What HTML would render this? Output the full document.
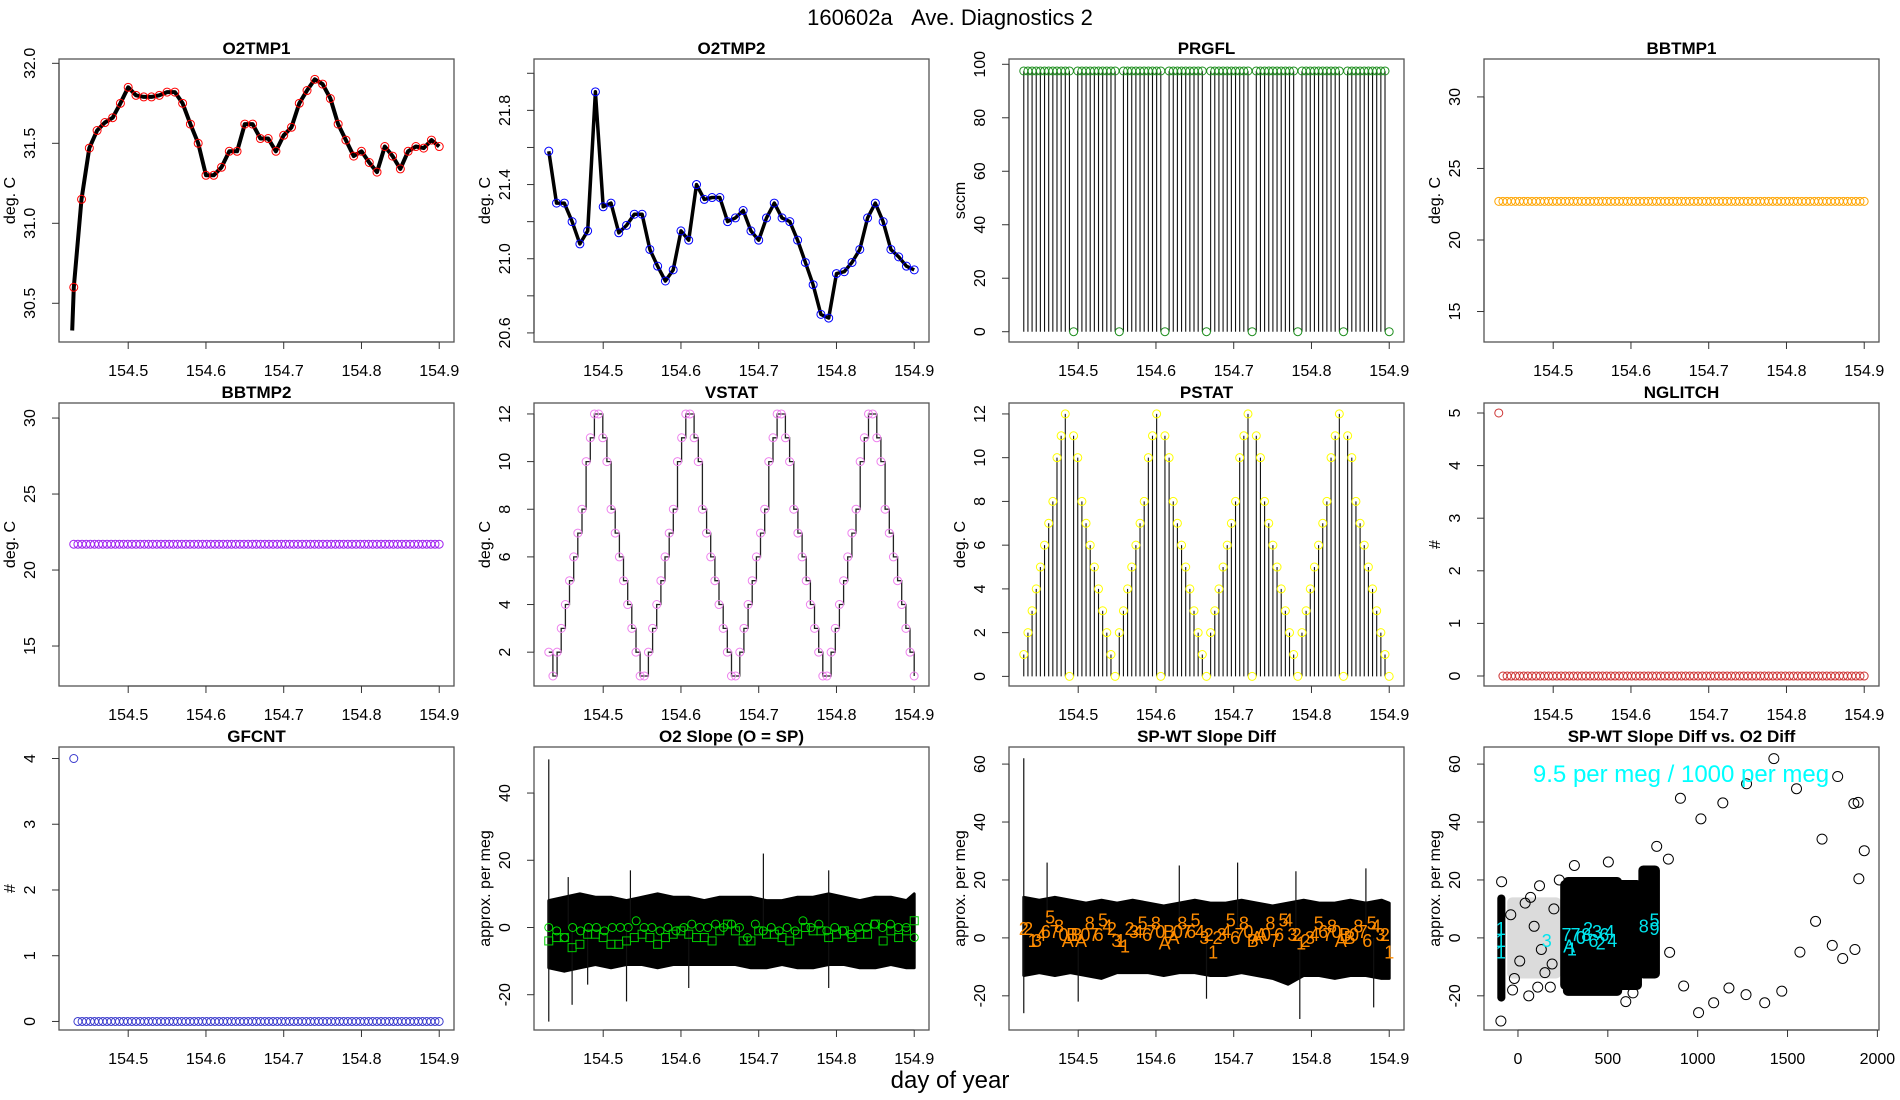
<!DOCTYPE html>
<html><head><meta charset="utf-8"><title>160602a Ave. Diagnostics 2</title>
<style>
html,body{margin:0;padding:0;background:#fff;}
svg{display:block;font-family:"Liberation Sans",Arial,sans-serif;}
</style></head>
<body>
<svg id="chart" width="1900" height="1100" viewBox="0 0 1900 1100" xmlns="http://www.w3.org/2000/svg">
<rect x="0" y="0" width="1900" height="1100" fill="#fff"/>
<text x="950" y="25" font-size="22" text-anchor="middle">160602a&#160;&#160;&#160;Ave. Diagnostics 2</text>
<text x="950" y="1088" font-size="24" text-anchor="middle">day of year</text>
</svg>
<script>
// ---------------- data ----------------
const xTicks = [154.5, 154.6, 154.7, 154.8, 154.9];
const xTickLabels = ["154.5", "154.6", "154.7", "154.8", "154.9"];
const dayStart = 154.43;
const coarseStep = 0.01;
const fineStep = 0.00534;
const envStep = 0.02;

const o2tmp1 = [30.6,31.15,31.47,31.58,31.63,31.66,31.75,31.85,31.8,31.79,31.79,31.8,31.82,31.82,31.75,31.62,31.5,31.3,31.3,31.35,31.45,31.45,31.62,31.62,31.53,31.53,31.45,31.55,31.6,31.75,31.83,31.9,31.87,31.78,31.62,31.52,31.42,31.45,31.38,31.32,31.48,31.42,31.34,31.45,31.48,31.47,31.52,31.48];
const o2tmp2 = [21.58,21.3,21.3,21.2,21.08,21.15,21.9,21.28,21.3,21.14,21.18,21.24,21.24,21.05,20.96,20.88,20.94,21.15,21.1,21.4,21.32,21.33,21.33,21.2,21.22,21.26,21.15,21.1,21.22,21.3,21.22,21.2,21.1,20.98,20.86,20.7,20.68,20.92,20.93,20.98,21.05,21.22,21.3,21.2,21.05,21.01,20.96,20.94];
const prgfl = [97.5,97.5,97.5,97.5,97.5,97.5,97.5,97.5,97.5,97.5,97.5,97.5,0,97.5,97.5,97.5,97.5,97.5,97.5,97.5,97.5,97.5,97.5,0,97.5,97.5,97.5,97.5,97.5,97.5,97.5,97.5,97.5,97.5,0,97.5,97.5,97.5,97.5,97.5,97.5,97.5,97.5,97.5,0,97.5,97.5,97.5,97.5,97.5,97.5,97.5,97.5,97.5,97.5,0,97.5,97.5,97.5,97.5,97.5,97.5,97.5,97.5,97.5,97.5,0,97.5,97.5,97.5,97.5,97.5,97.5,97.5,97.5,97.5,97.5,0,97.5,97.5,97.5,97.5,97.5,97.5,97.5,97.5,97.5,97.5,0];
const bbtmp1 = [22.7,22.7,22.7,22.7,22.7,22.7,22.7,22.7,22.7,22.7,22.7,22.7,22.7,22.7,22.7,22.7,22.7,22.7,22.7,22.7,22.7,22.7,22.7,22.7,22.7,22.7,22.7,22.7,22.7,22.7,22.7,22.7,22.7,22.7,22.7,22.7,22.7,22.7,22.7,22.7,22.7,22.7,22.7,22.7,22.7,22.7,22.7,22.7,22.7,22.7,22.7,22.7,22.7,22.7,22.7,22.7,22.7,22.7,22.7,22.7,22.7,22.7,22.7,22.7,22.7,22.7,22.7,22.7,22.7,22.7,22.7,22.7,22.7,22.7,22.7,22.7,22.7,22.7,22.7,22.7,22.7,22.7,22.7,22.7,22.7,22.7,22.7,22.7,22.7];
const bbtmp2 = [21.7,21.7,21.7,21.7,21.7,21.7,21.7,21.7,21.7,21.7,21.7,21.7,21.7,21.7,21.7,21.7,21.7,21.7,21.7,21.7,21.7,21.7,21.7,21.7,21.7,21.7,21.7,21.7,21.7,21.7,21.7,21.7,21.7,21.7,21.7,21.7,21.7,21.7,21.7,21.7,21.7,21.7,21.7,21.7,21.7,21.7,21.7,21.7,21.7,21.7,21.7,21.7,21.7,21.7,21.7,21.7,21.7,21.7,21.7,21.7,21.7,21.7,21.7,21.7,21.7,21.7,21.7,21.7,21.7,21.7,21.7,21.7,21.7,21.7,21.7,21.7,21.7,21.7,21.7,21.7,21.7,21.7,21.7,21.7,21.7,21.7,21.7,21.7,21.7];
const vstat = [2,1,2,3,4,5,6,7,8,10,11,12,12,11,10,8,7,6,5,4,3,2,1,1,2,3,4,5,6,7,8,10,11,12,12,11,10,8,7,6,5,4,3,2,1,1,2,3,4,5,6,7,8,10,11,12,12,11,10,8,7,6,5,4,3,2,1,1,2,3,4,5,6,7,8,10,11,12,12,11,10,8,7,6,5,4,3,2,1];
const pstat = [1,2,3,4,5,6,7,8,10,11,12,0,11,10,8,7,6,5,4,3,2,1,0,2,3,4,5,6,7,8,10,11,12,0,11,10,8,7,6,5,4,3,2,1,0,2,3,4,5,6,7,8,10,11,12,0,11,10,8,7,6,5,4,3,2,1,0,2,3,4,5,6,7,8,10,11,12,0,11,10,8,7,6,5,4,3,2,1,0];
const nglitch = [5,0,0,0,0,0,0,0,0,0,0,0,0,0,0,0,0,0,0,0,0,0,0,0,0,0,0,0,0,0,0,0,0,0,0,0,0,0,0,0,0,0,0,0,0,0,0,0,0,0,0,0,0,0,0,0,0,0,0,0,0,0,0,0,0,0,0,0,0,0,0,0,0,0,0,0,0,0,0,0,0,0,0,0,0,0,0,0,0];
const gfcnt = [4,0,0,0,0,0,0,0,0,0,0,0,0,0,0,0,0,0,0,0,0,0,0,0,0,0,0,0,0,0,0,0,0,0,0,0,0,0,0,0,0,0,0,0,0,0,0,0,0,0,0,0,0,0,0,0,0,0,0,0,0,0,0,0,0,0,0,0,0,0,0,0,0,0,0,0,0,0,0,0,0,0,0,0,0,0,0,0,0];

const slopeUpper = [8,9,10,9,9,8,9,10,9,9,8,9,9,9,8,8,9,9,10,9,8,9,9,8];
const slopeLower = [-12,-13,-12,-11,-12,-11,-11,-12,-11,-11,-11,-11,-11,-12,-12,-11,-12,-12,-11,-11,-12,-12,-11,-12];
const slopeSpikeX = [154.43,154.43,154.706,154.79,154.79,154.46,154.53,154.535,154.61,154.455,154.48];
const slopeSpikeY = [50,-28,22,17,-18,-23,-22,17,-18,15,-17];
const slopeCircles = [0,-1,-3,0,-1,0,0,-1,0,0,0,2,0,0,-1,0,-1,0,1,0,0,1,0,1,0,-3,1,-1,0,-1,0,-1,2,0,1,-1,0,-1,-2,0,0,1,0,1,0,0,-3];
const slopeSquares = [-4,-3,-3,-6,-5,-2,-2,-3,-5,-5,-4,-3,-2,-3,-5,-3,-2,-1,-2,-3,-3,-4,-1,1,-1,-4,-4,-1,-2,-2,-3,-4,-2,0,-1,-1,-3,-2,-1,-3,-2,-2,1,-4,-1,-3,-1,2];

const diffUpper = [14,13,14,13,12,13,12,13,12,11,12,13,12,12,13,12,11,12,13,12,12,13,12,13];
const diffLower = [-13,-12,-13,-12,-13,-14,-12,-12,-12,-13,-12,-12,-13,-13,-12,-13,-14,-16,-13,-13,-14,-13,-13,-14];
const diffSpikeX = [154.43,154.43,154.46,154.705,154.785,154.87,154.88,154.63,154.78,154.5,154.665];
const diffSpikeY = [62,-26,26,26,-28,24,-24,25,23,-22,-21];
const diffLabelText = ["2","2","1","3","4","6","5","7","8","0","A","B","B","A","0","8","7","6","5","4","2","3","1","1","2","3","4","5","6","7","8","0","A","B","A","0","8","7","6","5","4","3","2","1","2","3","4","5","6","7","8","0","B","A","A","0","8","7","6","5","4","3","2","1","2","3","4","5","6","7","8","0","A","B","B","0","8","7","6","5","4","3","2","1"];
const diffLabelY = [3,3,-1,-1,1,2,7,2,4,1,-1,1,1,-1,1,5,1,1,6,4,3,-1,-1,-3,3,2,2,5,1,2,5,2,-2,2,0,2,5,2,2,6,2,0,1,-5,0,1,2,6,0,1,5,2,-1,0,1,1,5,-1,1,6,6,1,1,-2,-1,0,1,5,2,1,4,2,-1,1,0,1,4,2,-1,5,4,1,1,-5];

const scatX = [1424,1779,1272,1550,904,1140,1869,1893,1018,1692,1927,772,837,1897,1656,1749,1569,1875,1807,844,922,1174,1269,1373,1468,1089,1005,-95,-91,503,314,60,120,180,-30,40,600,640,230,-40,10,90,150,200,-20,70,130,190,110];
const scatY = [61.9,55.7,53.2,51.5,48.2,46.6,46.4,46.8,41.1,34.1,30.1,31.6,27.2,20.4,5.7,-2.6,-4.9,-4.0,-7.1,-5,-16.6,-17.3,-19.6,-22.4,-18.4,-22.4,-25.8,-28.7,19.4,26.2,25,-20,18,-17,-18,12,-22,-19,20,8,-8,4,-12,10,-14,14,-4,-9,-17];
const clusterXmin = [-60, 235, -115, 250, 670];
const clusterXmax = [240, 690, -70, 580, 790];
const clusterYmin = [-14, -18, -22, -20, -14];
const clusterYmax = [14, 20, 15, 21, 25];
const clusterDense = [0, 1, 1, 1, 1];
const cyanX = [-95,-95,-95,160,270,285,300,320,350,380,390,420,440,460,480,510,525,700,760,760];
const cyanY = [3,-1,-5,-1,1,-3,-4,1,0,1,3,-1,2,-2,1,2,-1,4,6,3];
const cyanT = ["1","1","1","3","7","A","1","7","0","8","2","6","3","2","6","4","4","8","5","9"];

// ---------------- helpers ----------------
const NS = 'http://www.w3.org/2000/svg';
const svg = document.getElementById('chart');
function el(tag, parent) { const e = document.createElementNS(NS, tag); parent.appendChild(e); return e; }
function st(e, o) { for (const k in o) e.setAttribute(k, o[k]); }
function seq(start, step, n) { const a = []; for (let i = 0; i < n; i++) a.push(start + i * step); return a; }

const W = 395, H = 283;
function makePanel(id, col, row, xr, yr, yt, ylbl, xt, xlbl, ylab, title) {
  const L = 59 + 475 * col, T = 59 + 344 * row;
  const g = el('g', svg);
  
  
  const sx = v => L + (v - xr[0]) / (xr[1] - xr[0]) * W;
  const sy = v => T + H - (v - yr[0]) / (yr[1] - yr[0]) * H;
  const plot = el('g', g);
  
  
  const box = el('rect', g);
  st(box, {x: L, y: T, width: W, height: H, fill: 'none', stroke: '#555', 'stroke-width': 1.3});
  
  
  const tt = el('text', g);
  st(tt, {x: L + W / 2, y: T - 5, 'font-size': 17, 'font-weight': 'bold', 'text-anchor': 'middle'});
  tt.textContent = title;
  
  
  const ya = el('g', g);
  
  
  const yl = el('line', ya);
  st(yl, {x1: L, x2: L, y1: sy(yt[0]), y2: sy(yt[yt.length - 1]), stroke: '#333', 'stroke-width': 1});
  yt.forEach((v, i) => {
    const tk = el('line', ya);
    st(tk, {x1: L - 7, x2: L, y1: sy(v), y2: sy(v), stroke: '#333', 'stroke-width': 1});
    
    
    if (ylbl[i] !== '') {
      const tx = el('text', ya);
      st(tx, {x: L - 24, y: sy(v), 'font-size': 16, 'text-anchor': 'middle', transform: `rotate(-90 ${L - 24} ${sy(v)})`});
      tx.textContent = ylbl[i];
      
      
    }
  });
  const yt2 = el('text', ya);
  const cy = T + H / 2;
  st(yt2, {x: L - 44, y: cy, 'font-size': 16, 'text-anchor': 'middle', transform: `rotate(-90 ${L - 44} ${cy})`});
  yt2.textContent = ylab;
  
  
  const xa = el('g', g);
  
  
  const xl = el('line', xa);
  st(xl, {x1: sx(xt[0]), x2: sx(xt[xt.length - 1]), y1: T + H, y2: T + H, stroke: '#333', 'stroke-width': 1});
  xt.forEach((v, i) => {
    const tk = el('line', xa);
    st(tk, {x1: sx(v), x2: sx(v), y1: T + H, y2: T + H + 7, stroke: '#333', 'stroke-width': 1});
    
    
    const tx = el('text', xa);
    st(tx, {x: sx(v), y: T + H + 34, 'font-size': 16, 'text-anchor': 'middle'});
    tx.textContent = xlbl[i];
    
    
  });
  return {plot, sx, sy};
}
function circles(p, xs, ys, color, name, r) {
  ys.forEach((v, i) => {
    const c = el('circle', p.plot);
    st(c, {cx: p.sx(xs[i]), cy: p.sy(v), r: r || 4, fill: 'none', stroke: color, 'stroke-width': 1});
    
    
  });
}
function polyline(p, xs, ys, color, w, name) {
  const pl = el('polyline', p.plot);
  st(pl, {points: ys.map((v, i) => p.sx(xs[i]).toFixed(1) + ',' + p.sy(v).toFixed(1)).join(' '), fill: 'none', stroke: color, 'stroke-width': w, 'stroke-linejoin': 'round'});
  
  
}
function stems(p, xs, ys, name) {
  ys.forEach((v, i) => {
    if (v === 0) return;
    const l = el('line', p.plot);
    st(l, {x1: p.sx(xs[i]), x2: p.sx(xs[i]), y1: p.sy(0), y2: p.sy(v), stroke: '#111', 'stroke-width': 1.1});
    
    
  });
}
function band(p, xs, up, lo, sxs, sys, name) {
  const pts = up.map((v, i) => p.sx(xs[i]).toFixed(1) + ',' + p.sy(v).toFixed(1));
  for (let i = lo.length - 1; i >= 0; i--) pts.push(p.sx(xs[i]).toFixed(1) + ',' + p.sy(lo[i]).toFixed(1));
  const pg = el('polygon', p.plot);
  st(pg, {points: pts.join(' '), fill: '#000', stroke: '#000', 'stroke-width': 3, 'stroke-linejoin': 'round'});
  
  
  sxs.forEach((x, i) => {
    const l = el('line', p.plot);
    st(l, {x1: p.sx(x), x2: p.sx(x), y1: p.sy(0), y2: p.sy(sys[i]), stroke: '#111', 'stroke-width': 1.2});
    
    
  });
}

const XR = [154.411, 154.919];
const xCoarse = seq(dayStart, coarseStep, 48);
const xFine = seq(dayStart, fineStep, 89);
const xEnv = seq(dayStart, envStep, 24);

let p = makePanel('o2tmp1', 0, 0, XR, [30.258, 32.027], [30.5, 31, 31.5, 32], ['30.5', '31.0', '31.5', '32.0'], xTicks, xTickLabels, 'deg. C', 'O2TMP1');
polyline(p, [154.428].concat(xCoarse), [30.33].concat(o2tmp1), '#000', 4, 'o2tmp1-line');
circles(p, xCoarse, o2tmp1, '#ff0000', 'o2tmp1-point');

p = makePanel('o2tmp2', 1, 0, XR, [20.551, 22.077], [20.6, 20.8, 21.0, 21.2, 21.4, 21.6, 21.8, 22.0], ['20.6', '', '21.0', '', '21.4', '', '21.8', ''], xTicks, xTickLabels, 'deg. C', 'O2TMP2');
polyline(p, xCoarse, o2tmp2, '#000', 3.5, 'o2tmp2-line');
circles(p, xCoarse, o2tmp2, '#0000ff', 'o2tmp2-point');

p = makePanel('prgfl', 2, 0, XR, [-3.85, 101.98], [0, 20, 40, 60, 80, 100], ['0', '20', '40', '60', '80', '100'], xTicks, xTickLabels, 'sccm', 'PRGFL');
stems(p, xFine, prgfl, 'prgfl-stem');
circles(p, xFine, prgfl, '#1f8f1f', 'prgfl-point');

p = makePanel('bbtmp1', 3, 0, XR, [12.87, 32.65], [15, 20, 25, 30], ['15', '20', '25', '30'], xTicks, xTickLabels, 'deg. C', 'BBTMP1');
circles(p, xFine, bbtmp1, '#ffa500', 'bbtmp1-point');

p = makePanel('bbtmp2', 0, 1, XR, [12.37, 30.99], [15, 20, 25, 30], ['15', '20', '25', '30'], xTicks, xTickLabels, 'deg. C', 'BBTMP2');
circles(p, xFine, bbtmp2, '#a020f0', 'bbtmp2-point');

p = makePanel('vstat', 1, 1, XR, [0.58, 12.46], [2, 4, 6, 8, 10, 12], ['2', '4', '6', '8', '10', '12'], xTicks, xTickLabels, 'deg. C', 'VSTAT');
{
  let d = 'M' + p.sx(xFine[0]) + ' ' + p.sy(vstat[0]);
  for (let i = 1; i < vstat.length; i++) d += ' H' + p.sx(xFine[i]).toFixed(1) + ' V' + p.sy(vstat[i]).toFixed(1);
  const sp = el('path', p.plot);
  st(sp, {d: d, fill: 'none', stroke: '#222', 'stroke-width': 1.3});
  
  
}
circles(p, xFine, vstat, '#ee82ee', 'vstat-point');

p = makePanel('pstat', 2, 1, XR, [-0.44, 12.5], [0, 2, 4, 6, 8, 10, 12], ['0', '2', '4', '6', '8', '10', '12'], xTicks, xTickLabels, 'deg. C', 'PSTAT');
stems(p, xFine, pstat, 'pstat-stem');
circles(p, xFine, pstat, '#ffff00', 'pstat-point');

p = makePanel('nglitch', 3, 1, XR, [-0.19, 5.19], [0, 1, 2, 3, 4, 5], ['0', '1', '2', '3', '4', '5'], xTicks, xTickLabels, '#', 'NGLITCH');
circles(p, xFine, nglitch, '#cd3333', 'nglitch-point');

p = makePanel('gfcnt', 0, 2, XR, [-0.13, 4.175], [0, 1, 2, 3, 4], ['0', '1', '2', '3', '4'], xTicks, xTickLabels, '#', 'GFCNT');
circles(p, xFine, gfcnt, '#3a3acd', 'gfcnt-point');

p = makePanel('o2-slope', 1, 2, XR, [-30.5, 53.7], [-20, 0, 20, 40], ['-20', '0', '20', '40'], xTicks, xTickLabels, 'approx. per meg', 'O2 Slope (O = SP)');
band(p, xEnv.concat([154.9]), slopeUpper.concat([10]), slopeLower.concat([-12]), slopeSpikeX, slopeSpikeY, 'o2-slope');
circles(p, seq(dayStart, 0.47 / 46, 47), slopeCircles, '#00dd00', 'o2-slope-circle');
slopeSquares.forEach((v, i) => {
  const xx = p.sx(dayStart + i * 0.47 / 47), yy = p.sy(v);
  const r = el('rect', p.plot);
  st(r, {x: xx - 4, y: yy - 4, width: 8, height: 8, fill: 'none', stroke: '#00cc00', 'stroke-width': 1});
  
  
});

p = makePanel('spwt-diff', 2, 2, XR, [-31.8, 65.9], [-20, 0, 20, 40, 60], ['-20', '0', '20', '40', '60'], xTicks, xTickLabels, 'approx. per meg', 'SP-WT Slope Diff');
band(p, xEnv.concat([154.9]), diffUpper.concat([12]), diffLower.concat([-14]), diffSpikeX, diffSpikeY, 'spwt-diff');
diffLabelText.forEach((t, i) => {
  const tx = el('text', p.plot);
  st(tx, {x: p.sx(dayStart + i * 0.47 / 83), y: p.sy(diffLabelY[i]), 'font-size': 18, fill: '#ff8c00', 'text-anchor': 'middle', 'dominant-baseline': 'central'});
  tx.textContent = t;
  
  
});

p = makePanel('spwt-vs-o2', 3, 2, [-189, 2009], [-31.8, 65.9], [-20, 0, 20, 40, 60], ['-20', '0', '20', '40', '60'], [0, 500, 1000, 1500, 2000], ['0', '500', '1000', '1500', '2000'], 'approx. per meg', 'SP-WT Slope Diff vs. O2 Diff');
clusterXmin.forEach((x0, i) => {
  const r = el('rect', p.plot);
  const xa = p.sx(x0), xb = p.sx(clusterXmax[i]), ya = p.sy(clusterYmax[i]), yb = p.sy(clusterYmin[i]);
  st(r, {x: xa, y: ya, width: xb - xa, height: yb - ya, rx: Math.min(5, (xb - xa) / 2), fill: clusterDense[i] ? '#000' : '#888', 'fill-opacity': clusterDense[i] ? 1 : 0.3});
  
  
});
circles(p, scatX, scatY, '#000', 'scatter-point', 5);
cyanT.forEach((t, i) => {
  const tx = el('text', p.plot);
  st(tx, {x: p.sx(cyanX[i]), y: p.sy(cyanY[i]), 'font-size': 18, fill: '#00e5ee', 'text-anchor': 'middle', 'dominant-baseline': 'central'});
  tx.textContent = t;
  
  
});
{
  const ann = el('text', p.plot);
  st(ann, {x: 1681, y: 782, 'font-size': 24, fill: '#00ffff', 'text-anchor': 'middle'});
  ann.textContent = '9.5 per meg / 1000 per meg';
  
  
}
</script>
</body></html>
